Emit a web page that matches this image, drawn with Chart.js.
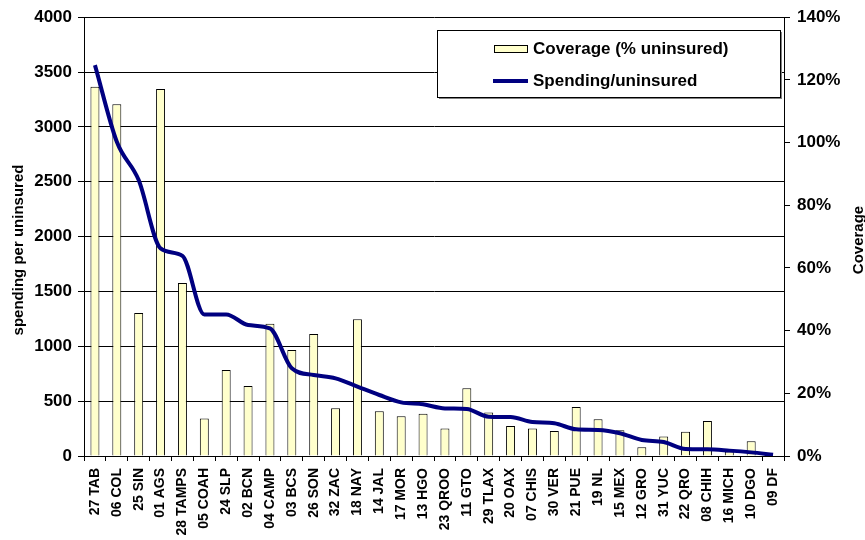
<!DOCTYPE html>
<html>
<head>
<meta charset="utf-8">
<title>Spending and coverage</title>
<script src="https://cdn.jsdelivr.net/npm/chart.js@4/dist/chart.umd.min.js"></script>
<style>
    body{margin: 0; background: #fff;}
    #wrap{width: 865px; height: 540px; position: relative;}
</style>
</head>
<body>
<div id="wrap"><canvas id="SpendChart"></canvas></div>
<script>
let states = ['27 TAB', '06 COL', '25 SIN', '01 AGS', '28 TAMPS', '05 COAH', '24 SLP', '02 BCN',
    '04 CAMP', '03 BCS', '26 SON', '32 ZAC', '18 NAY', '14 JAL', '17 MOR', '13 HGO', '23 QROO',
    '11 GTO', '29 TLAX', '20 OAX', '07 CHIS', '30 VER', '21 PUE', '19 NL', '15 MEX', '12 GRO',
    '31 YUC', '22 QRO', '08 CHIH', '16 MICH', '10 DGO', '09 DF']; //ось Ох, штаты

let coverage = [117.8, 112.2, 45.6, 117.1, 55.2, 12.0, 27.4, 22.3, 42.2, 33.8, 38.9, 15.2, 43.6,
    14.3, 12.7, 13.5, 8.8, 21.6, 13.9, 9.6, 8.8, 8.0, 15.6, 11.7, 8.2, 2.8, 6.2, 7.7, 11.2, 1.4,
    4.7, 0]; //столбцы, % незастрахованных (правая ось)

let spending = [3563, 2864, 2515, 1893, 1825, 1291, 1291, 1194, 1163, 799, 738, 708, 632, 556,
    489, 471, 434, 428, 358, 355, 310, 298, 243, 237, 207, 146, 128, 64, 61, 49, 33, 12]; //линия, расходы на незастрахованного (левая ось)

let spendTicks = {min: 0, max: 4000, step: 500}; //шкала слева
let coverTicks = {min: 0, max: 140, step: 20}; //шкала справа

const boldFont = (size) => ({family: 'Arial, "Liberation Sans", sans-serif', size: size, weight: 'bold'});

let extras = { //подписи осей и легенда рисуются вручную
    id: 'extras',
    afterDraw(chart){
        let ctx = chart.ctx;
        ctx.save();
        ctx.fillStyle = '#000';
        ctx.font = 'bold 15px Arial, "Liberation Sans", sans-serif';
        ctx.textAlign = 'center';
        ctx.textBaseline = 'middle';
        //левая подпись
        ctx.save();
        ctx.translate(19, 250);
        ctx.rotate(-Math.PI / 2);
        ctx.fillText('spending per uninsured', 0, 0);
        ctx.restore();
        //правая подпись
        ctx.save();
        ctx.translate(chart.width - 6, 240);
        ctx.rotate(-Math.PI / 2);
        ctx.fillText('Coverage', 0, 0);
        ctx.restore();

        //легенда
        let bx = 437, by = 30, bw = 343, bh = 67;
        ctx.fillStyle = '#808080';
        ctx.fillRect(bx + 2, by + 2, bw, bh);
        ctx.fillStyle = '#fff';
        ctx.fillRect(bx, by, bw, bh);
        ctx.strokeStyle = '#000';
        ctx.lineWidth = 1;
        ctx.strokeRect(bx + 0.5, by + 0.5, bw, bh);

        let ds = chart.data.datasets;
        ctx.fillStyle = ds[1].backgroundColor;
        ctx.fillRect(494.5, 45.5, 33, 7);
        ctx.strokeRect(494.5, 45.5, 33, 7);
        ctx.strokeStyle = ds[0].borderColor;
        ctx.lineWidth = 4;
        ctx.beginPath();
        ctx.moveTo(493, 81);
        ctx.lineTo(528, 81);
        ctx.stroke();

        ctx.fillStyle = '#000';
        ctx.font = 'bold 17px Arial, "Liberation Sans", sans-serif';
        ctx.textAlign = 'left';
        ctx.fillText(ds[1].label, 533, 49);
        ctx.fillText(ds[0].label, 533, 81);
        ctx.restore();
    }
};

let data = {
    labels: states,
    datasets: [{
        type: 'line',
        label: 'Spending/uninsured',
        data: spending,
        yAxisID: 'y',
        borderColor: '#000080',
        borderWidth: 4,
        pointRadius: 0,
        cubicInterpolationMode: 'monotone',
        order: 0
    }, {
        type: 'bar',
        label: 'Coverage (% uninsured)',
        data: coverage,
        yAxisID: 'y1',
        backgroundColor: '#FFFFCC',
        borderColor: '#000',
        borderWidth: 1,
        barPercentage: 0.82,
        categoryPercentage: 0.5,
        order: 1
    }]
};

let config = {
    type: 'bar',
    data: data,
    plugins: [extras],
    options: {
        responsive: false,
        animation: false,
        layout: {padding: {top: 17, left: 0, right: 0, bottom: 0}},
        plugins: {legend: {display: false}, tooltip: {enabled: false}},
        scales: {
            x: {
                offset: true,
                grid: {display: true, drawOnChartArea: false, tickLength: 5, color: '#000', offset: true},
                border: {color: '#000'},
                ticks: {color: '#000', font: boldFont(14), minRotation: 90, maxRotation: 90, autoSkip: false, padding: 7},
                afterFit: (scale) => { scale.height = 84; }
            },
            y: {
                position: 'left',
                min: spendTicks.min,
                max: spendTicks.max,
                ticks: {stepSize: spendTicks.step, color: '#000', font: boldFont(17), padding: 6,
                    callback: (v) => String(v)},
                grid: {color: '#000', tickLength: 6},
                border: {color: '#000'},
                afterFit: (scale) => { scale.width = 84; }
            },
            y1: {
                position: 'right',
                min: coverTicks.min,
                max: coverTicks.max,
                ticks: {stepSize: coverTicks.step, color: '#000', font: boldFont(17), padding: 7,
                    callback: (v) => v + '%'},
                grid: {drawOnChartArea: false, color: '#000', tickLength: 6},
                border: {color: '#000'},
                afterFit: (scale) => { scale.width = 81; }
            }
        }
    }
};

let canvas = document.getElementById('SpendChart');
canvas.width = 865;
canvas.height = 540;
const SpendChart = new Chart(canvas, config); //создание графика
</script>
</body>
</html>
